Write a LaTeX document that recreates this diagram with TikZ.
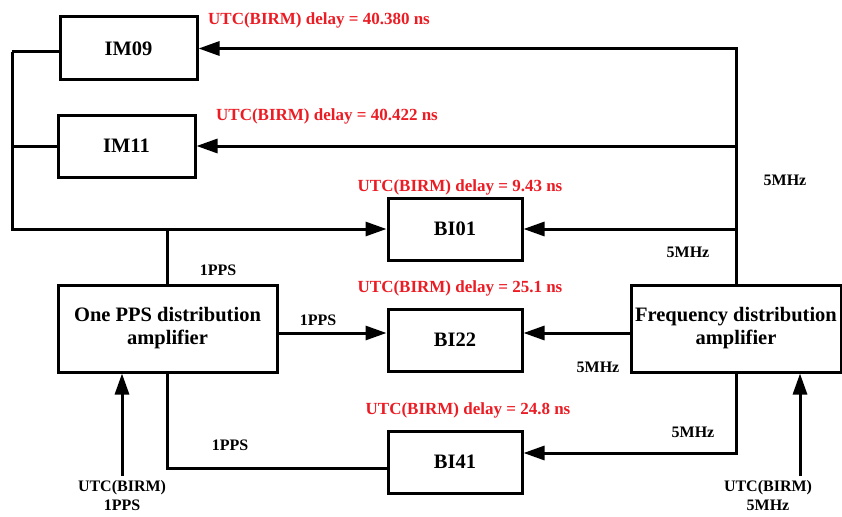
\documentclass[tikz,border=0pt]{standalone}
\usepackage{fontspec}
\setmainfont{Liberation Serif}
\usetikzlibrary{arrows.meta,positioning}
\definecolor{delayred}{RGB}{235,28,36}
\begin{document}
\begin{tikzpicture} [
    x=1pt, y=-1pt,
    line width=3pt,
    nd/.style={draw=black, line width=3pt, inner sep=0pt, align=center,
      font=\fontsize{20.5}{23}\selectfont\bfseries},
    lbl/.style={font=\fontsize{16}{19}\selectfont\bfseries, align=center},
    dly/.style={text=delayred, font=\fontsize{17}{20}\selectfont\bfseries},
    arr/.style={-{Triangle[length=21pt,width=14pt]}}
  ]
  \useasboundingbox (0,0) rectangle (842,516);
  % boxes
  \node[nd, minimum width=137pt, minimum height=63pt] (im09) at (128.5,48.5) {IM09};
  \node[nd, minimum width=137pt, minimum height=62pt] (im11) at (126.5,146) {IM11};
  \node[nd, minimum width=134pt, minimum height=62pt] (bi01) at (455,229) {BI01};
  \node[nd, minimum width=134pt, minimum height=62pt] (bi22) at (455,340) {BI22};
  \node[nd, minimum width=134pt, minimum height=62pt] (bi41) at (455,462) {BI41};
  \node[nd, minimum width=219pt, minimum height=87pt] (pps) at (167.5,328.5)
    {One PPS distribution\\amplifier};
  \node[nd, minimum width=210pt, minimum height=87pt] (freq) at (736,328.5)
    {Frequency distribution\\amplifier};
  \coordinate (lft) at (12,52);
  \coordinate (in1) at (122,476);
  \coordinate (in2) at (800,476);

  % 1PPS side
  \draw (im09.west |- lft) -- (lft);
  \draw[arr] (lft) |- (bi01.west);
  \draw (im11.west) -- (im11.west -| lft);
  \draw (pps.north) -- (pps.north |- bi01.west);
  \draw[arr] ([yshift=-4.5pt]pps.east) -- ([yshift=-4.5pt]pps.east -| bi22.west);
  \draw (pps.south) |- ([yshift=-6pt]bi41.west);
  \draw[arr] (in1) -- (in1 |- pps.south);

  % 5MHz side
  \draw[arr] (freq.north) |- (im09.east);
  \draw[arr] (freq.north |- im11.east) -- (im11.east);
  \draw[arr] (freq.north |- bi01.east) -- (bi01.east);
  \draw[arr] ([yshift=-4.5pt]freq.west) -- ([yshift=-4.5pt]freq.west -| bi22.east);
  \draw[arr] (freq.south) |- ([yshift=9pt]bi41.east);
  \draw[arr] (in2) -- (in2 |- freq.south);

  % labels
  \node[lbl] (p1) at (218,270) {1PPS};
  \node[lbl] (p2) at (318,320) {1PPS};
  \node[lbl] (p3) at (230,445) {1PPS};
  \node[lbl] (m1) at (785,180) {5MHz};
  \node[lbl] (m2) at (688,252) {5MHz};
  \node[lbl] (m3) at (598,367) {5MHz};
  \node[lbl] (m4) at (693,432) {5MHz};
  \node[lbl] (src1) at (122,496) {UTC(BIRM)\\1PPS};
  \node[lbl] (src2) at (768,496) {UTC(BIRM)\\5MHz};

  % delays
  \node[dly] (d1) at (319,20) {UTC(BIRM) delay = 40.380 ns};
  \node[dly] (d2) at (327,116) {UTC(BIRM) delay = 40.422 ns};
  \node[dly] (d3) at (460,187) {UTC(BIRM) delay = 9.43 ns};
  \node[dly] (d4) at (460,288) {UTC(BIRM) delay = 25.1 ns};
  \node[dly] (d5) at (468,410) {UTC(BIRM) delay = 24.8 ns};
\end{tikzpicture}
\end{document}
